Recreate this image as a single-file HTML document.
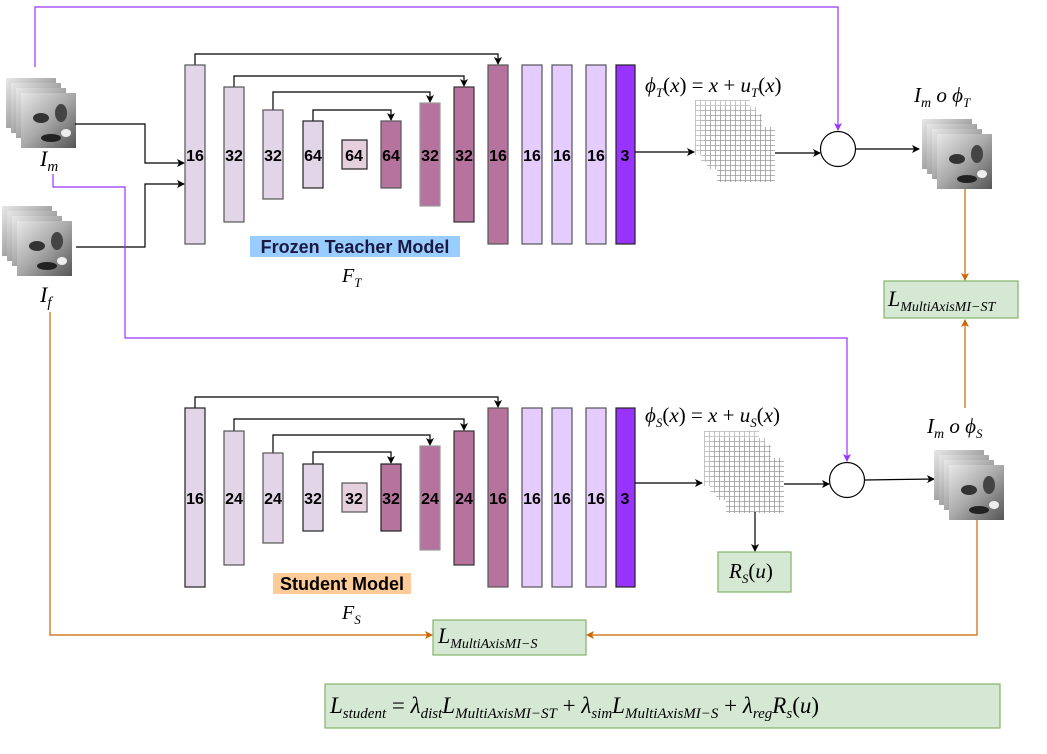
<!DOCTYPE html>
<html><head><meta charset="utf-8"><style>
html,body{margin:0;padding:0;background:#fff;}
svg{display:block;}
.b{font-family:"Liberation Sans",sans-serif;font-weight:bold;font-size:16px;fill:#000;}
.t{font-family:"Liberation Sans",sans-serif;font-weight:bold;font-size:18px;}
.m{font-family:"Liberation Serif",serif;font-style:italic;fill:#000;}
.r{font-family:"Liberation Serif",serif;fill:#000;}
</style></head><body>
<svg width="1047" height="754" viewBox="0 0 1047 754" xmlns="http://www.w3.org/2000/svg">
<defs>
<marker id="ak" markerWidth="8" markerHeight="8" refX="7" refY="4" orient="auto" markerUnits="userSpaceOnUse"><path d="M0,0 L8,4 L0,8 L2,4z" fill="#000"/></marker>
<marker id="ap" markerWidth="8" markerHeight="8" refX="7" refY="4" orient="auto" markerUnits="userSpaceOnUse"><path d="M0,0 L8,4 L0,8 L2,4z" fill="#9933ff"/></marker>
<marker id="ao" markerWidth="8" markerHeight="8" refX="7" refY="4" orient="auto" markerUnits="userSpaceOnUse"><path d="M0,0 L8,4 L0,8 L2,4z" fill="#cc6600"/></marker>
<linearGradient id="gi" x1="0" y1="0" x2="1" y2="1"><stop offset="0" stop-color="#e8e8e8"/><stop offset="0.5" stop-color="#a8a8a8"/><stop offset="1" stop-color="#555"/></linearGradient>
<pattern id="grid" width="5" height="5" patternUnits="userSpaceOnUse"><rect width="5" height="5" fill="#fff"/><path d="M0,0.5 H5 M0.5,0 V5" stroke="#999" stroke-width="0.8"/></pattern>
<g id="img">
<rect x="0" y="0" width="50" height="50" fill="url(#gi)"/>
<rect x="5" y="5" width="50" height="50" fill="url(#gi)"/>
<rect x="10" y="10" width="50" height="50" fill="url(#gi)"/>
<rect x="15" y="15" width="55" height="55" fill="url(#gi)"/>
<ellipse cx="35" cy="40" rx="8" ry="5" fill="#333"/>
<ellipse cx="55" cy="35" rx="6" ry="9" fill="#444"/>
<ellipse cx="45" cy="60" rx="10" ry="4" fill="#222"/>
<ellipse cx="60" cy="55" rx="5" ry="4" fill="#eee"/>
</g>
<g id="fld">
<rect x="0" y="0" width="55" height="55" fill="url(#grid)" opacity="0.7"/>
<rect x="6" y="7" width="55" height="55" fill="url(#grid)" opacity="0.8"/>
<rect x="12" y="14" width="55" height="55" fill="url(#grid)" opacity="0.9"/>
<rect x="22" y="27" width="58" height="55" fill="url(#grid)"/>
</g>
</defs>

<use href="#img" x="6" y="78"/>
<text class="m" x="40" y="166" font-size="22">I<tspan font-size="15" dy="5">m</tspan></text>
<use href="#img" x="2" y="206"/>
<text class="m" x="40" y="302" font-size="22">I<tspan font-size="15" dy="5">f</tspan></text>

<polyline points="75,124 145,124 145,163 184,163" fill="none" stroke="#000" stroke-width="1.2" marker-end="url(#ak)"/>
<polyline points="76,247 145,247 145,184 184,184" fill="none" stroke="#000" stroke-width="1.2" marker-end="url(#ak)"/>

<polyline points="35,67 35,7 838,7 838,130" fill="none" stroke="#9933ff" stroke-width="1.2" marker-end="url(#ap)"/>
<polyline points="53,174 53,187 125,187 125,338 847,338 847,461" fill="none" stroke="#9933ff" stroke-width="1.2" marker-end="url(#ap)"/>

<polyline points="50,312 50,635 432,635" fill="none" stroke="#cc6600" stroke-width="1.2" marker-end="url(#ao)"/>
<polyline points="977,508 977,635 587,635" fill="none" stroke="#cc6600" stroke-width="1.2" marker-end="url(#ao)"/>
<polyline points="965,179 965,280" fill="none" stroke="#cc6600" stroke-width="1.2" marker-end="url(#ao)"/>
<polyline points="965,408 965,320" fill="none" stroke="#cc6600" stroke-width="1.2" marker-end="url(#ao)"/>

<g stroke-width="1.2" fill="none" stroke="#000">
<polyline points="195,65 195,54 498,54 498,64" marker-end="url(#ak)"/>
<polyline points="234,87 234,76 464,76 464,86" marker-end="url(#ak)"/>
<polyline points="273,110 273,92 430,92 430,102" marker-end="url(#ak)"/>
<polyline points="313,121 313,110 391,110 391,120" marker-end="url(#ak)"/>
</g>
<g stroke="#555" stroke-width="1.2">
<rect x="185" y="65" width="20" height="179" fill="#e1d5e7"/>
<rect x="224" y="87" width="20" height="135" fill="#e1d5e7"/>
<rect x="263" y="110" width="20" height="89" fill="#e1d5e7"/>
<rect x="303" y="121" width="20" height="67" fill="#e1d5e7" stroke="#222"/>
<rect x="342" y="140" width="25" height="29" fill="#e6d0de" stroke="#222"/>
<rect x="381" y="121" width="20" height="67" fill="#b5739d"/>
<rect x="420" y="103" width="20" height="103" fill="#b5739d" stroke="#999"/>
<rect x="454" y="87" width="20" height="135" fill="#b5739d" stroke="#333"/>
<rect x="488" y="65" width="20" height="179" fill="#b5739d"/>
<rect x="522" y="65" width="20" height="179" fill="#e5ccff"/>
<rect x="552" y="65" width="20" height="179" fill="#e5ccff"/>
<rect x="586" y="65" width="20" height="179" fill="#e5ccff"/>
<rect x="616" y="65" width="19" height="179" fill="#9933ff" stroke="#222"/>
</g>
<g class="b" text-anchor="middle">
<text x="195" y="161">16</text><text x="234" y="161">32</text><text x="273" y="161">32</text><text x="313" y="161">64</text>
<text x="354" y="161">64</text><text x="391" y="161">64</text><text x="430" y="161">32</text><text x="464" y="161">32</text>
<text x="498" y="161">16</text><text x="532" y="161">16</text><text x="562" y="161">16</text><text x="596" y="161">16</text><text x="625" y="161">3</text>
</g>
<rect x="250" y="236" width="210" height="21" fill="#99ccff"/>
<text class="t" x="355" y="253" text-anchor="middle" fill="#1a1a40">Frozen Teacher Model</text>
<text class="m" x="342" y="282" font-size="20" fill="#1a1a40">F<tspan font-size="13" dy="5">T</tspan></text>

<line x1="635" y1="152" x2="694" y2="152" stroke="#000" stroke-width="1.2" marker-end="url(#ak)"/>
<use href="#fld" x="695" y="100"/>
<line x1="775" y1="153" x2="820" y2="153" stroke="#000" stroke-width="1.2" marker-end="url(#ak)"/>
<circle cx="838" cy="149" r="17.5" fill="#fff" stroke="#000" stroke-width="1.2"/>
<line x1="856" y1="149" x2="919" y2="149" stroke="#000" stroke-width="1.2" marker-end="url(#ak)"/>
<use href="#img" x="922" y="119"/>
<text class="m" x="645" y="92" font-size="21">ϕ<tspan font-size="13" dy="5">T</tspan><tspan class="r" dy="-5" font-style="normal">(</tspan>x<tspan font-style="normal">) = </tspan>x<tspan font-style="normal"> + </tspan>u<tspan font-size="13" dy="5">T</tspan><tspan font-style="normal" dy="-5">(</tspan>x<tspan font-style="normal">)</tspan></text>
<text class="m" x="914" y="102" font-size="21">I<tspan font-size="14" dy="5">m</tspan><tspan dy="-5"> o ϕ</tspan><tspan font-size="13" dy="5">T</tspan></text>
<rect x="884" y="281" width="134" height="37" fill="#d5e8d4" stroke="#82b366" stroke-width="1.2"/>
<text class="m" x="888" y="306" font-size="22">L<tspan font-size="14" dy="5">MultiAxisMI−ST</tspan></text>

<g stroke-width="1.2" fill="none" stroke="#000">
<polyline points="195,408 195,397 498,397 498,407" marker-end="url(#ak)"/>
<polyline points="234,431 234,419 464,419 464,430" marker-end="url(#ak)"/>
<polyline points="273,453 273,435 430,435 430,445" marker-end="url(#ak)"/>
<polyline points="313,464 313,452 391,452 391,463" marker-end="url(#ak)"/>
</g>
<g stroke="#555" stroke-width="1.2">
<rect x="185" y="408" width="20" height="179" fill="#e1d5e7" stroke="#222"/>
<rect x="224" y="431" width="20" height="134" fill="#e1d5e7"/>
<rect x="263" y="453" width="20" height="90" fill="#e1d5e7"/>
<rect x="303" y="464" width="20" height="67" fill="#e1d5e7" stroke="#222"/>
<rect x="342" y="483" width="25" height="29" fill="#e6d0de"/>
<rect x="381" y="464" width="20" height="67" fill="#b5739d" stroke="#222"/>
<rect x="420" y="446" width="20" height="104" fill="#b5739d" stroke="#999"/>
<rect x="454" y="431" width="20" height="134" fill="#b5739d" stroke="#333"/>
<rect x="488" y="408" width="20" height="179" fill="#b5739d"/>
<rect x="522" y="408" width="20" height="179" fill="#e5ccff"/>
<rect x="552" y="408" width="20" height="179" fill="#e5ccff"/>
<rect x="586" y="408" width="20" height="179" fill="#e5ccff"/>
<rect x="616" y="408" width="19" height="179" fill="#9933ff" stroke="#222"/>
</g>
<g class="b" text-anchor="middle">
<text x="195" y="504">16</text><text x="234" y="504">24</text><text x="273" y="504">24</text><text x="313" y="504">32</text>
<text x="354" y="504">32</text><text x="391" y="504">32</text><text x="430" y="504">24</text><text x="464" y="504">24</text>
<text x="498" y="504">16</text><text x="532" y="504">16</text><text x="562" y="504">16</text><text x="596" y="504">16</text><text x="625" y="504">3</text>
</g>
<rect x="273" y="573" width="138" height="21" fill="#ffcc99"/>
<text class="t" x="342" y="590" text-anchor="middle">Student Model</text>
<text class="m" x="342" y="619" font-size="20">F<tspan font-size="13" dy="5">S</tspan></text>

<line x1="635" y1="483" x2="702" y2="483" stroke="#000" stroke-width="1.2" marker-end="url(#ak)"/>
<use href="#fld" x="704" y="431"/>
<line x1="784" y1="484" x2="829" y2="484" stroke="#000" stroke-width="1.2" marker-end="url(#ak)"/>
<circle cx="847" cy="480" r="17.5" fill="#fff" stroke="#000" stroke-width="1.2"/>
<line x1="865" y1="480" x2="934" y2="479" stroke="#000" stroke-width="1.2" marker-end="url(#ak)"/>
<use href="#img" x="934" y="450"/>
<line x1="755" y1="512" x2="755" y2="551" stroke="#000" stroke-width="1.2" marker-end="url(#ak)"/>
<rect x="718" y="552" width="73" height="40" fill="#d5e8d4" stroke="#82b366" stroke-width="1.2"/>
<text class="m" x="729" y="578" font-size="21">R<tspan font-size="13" dy="5">S</tspan><tspan font-style="normal" dy="-5">(</tspan>u<tspan font-style="normal">)</tspan></text>
<text class="m" x="645" y="422" font-size="21">ϕ<tspan font-size="13" dy="5">S</tspan><tspan font-style="normal" dy="-5">(</tspan>x<tspan font-style="normal">) = </tspan>x<tspan font-style="normal"> + </tspan>u<tspan font-size="13" dy="5">S</tspan><tspan font-style="normal" dy="-5">(</tspan>x<tspan font-style="normal">)</tspan></text>
<text class="m" x="927" y="433" font-size="21">I<tspan font-size="14" dy="5">m</tspan><tspan dy="-5"> o ϕ</tspan><tspan font-size="13" dy="5">S</tspan></text>

<rect x="433" y="620" width="153" height="35" fill="#d5e8d4" stroke="#82b366" stroke-width="1.2"/>
<text class="m" x="438" y="643" font-size="22">L<tspan font-size="14" dy="5">MultiAxisMI−S</tspan></text>

<rect x="325" y="684" width="675" height="44" fill="#d5e8d4" stroke="#82b366" stroke-width="1.2"/>
<text class="m" x="330" y="713" font-size="23">L<tspan font-size="15" dy="5">student</tspan><tspan font-style="normal" dy="-5"> = </tspan>λ<tspan font-size="15" dy="5">dist</tspan><tspan dy="-5">L</tspan><tspan font-size="15" dy="5">MultiAxisMI−ST</tspan><tspan font-style="normal" dy="-5"> + </tspan>λ<tspan font-size="15" dy="5">sim</tspan><tspan dy="-5">L</tspan><tspan font-size="15" dy="5">MultiAxisMI−S</tspan><tspan font-style="normal" dy="-5"> + </tspan>λ<tspan font-size="15" dy="5">reg</tspan><tspan dy="-5">R</tspan><tspan font-size="15" dy="5">s</tspan><tspan font-style="normal" dy="-5">(</tspan>u<tspan font-style="normal">)</tspan></text>
</svg>
</body></html>
